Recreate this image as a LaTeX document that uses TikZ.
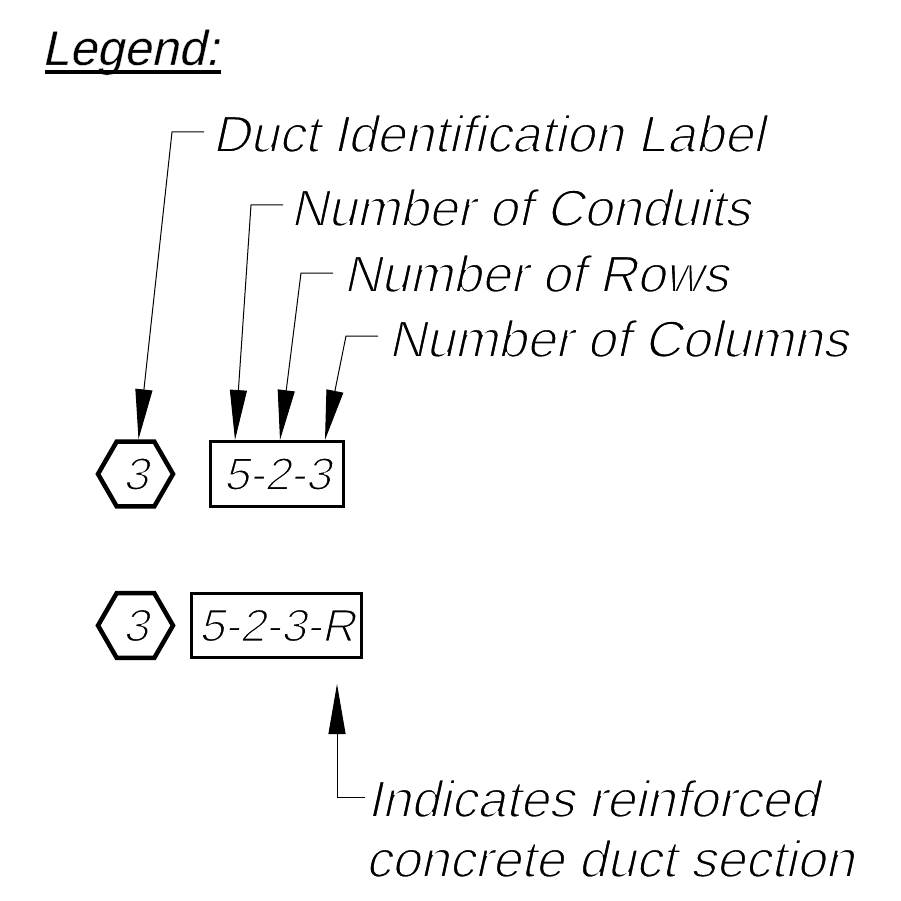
\documentclass[tikz,border=0pt]{standalone}
\usepackage{fontspec}
\setmainfont{Liberation Sans}[FakeSlant=0.22]
\usetikzlibrary{shapes.geometric,arrows.meta}
\newcommand{\thinstroke}[1]{\special{pdf:literal direct 2 Tr #1 w 1 1 1 RG}}
\begin{document}
\begin{tikzpicture}[x=1pt,y=-1pt,
  lbl/.style={inner sep=0pt, anchor=base west, font=\fontsize{51.7}{60}\selectfont\thinstroke{1.6}},
  leader/.style={line width=1pt, -{Triangle[length=50pt,width=17pt]}},
  hexa/.style={regular polygon, regular polygon sides=6, draw, line width=4.5pt,
               minimum size=75pt, inner sep=0pt, font=\fontsize{46}{50}\selectfont\thinstroke{1.6}},
  duct/.style={draw, line width=3pt, inner sep=0pt, font=\fontsize{46}{50}\selectfont\thinstroke{1.6}}]
\useasboundingbox (0,0) rectangle (900,901);

% Title
\node[inner sep=0pt, anchor=base west, font=\fontsize{49}{56}\selectfont\thinstroke{0.3}] (tLeg) at (41.5,65) {Legend:};
\draw[line width=4pt] ([shift={(3pt,-7pt)}]tLeg.base west) -- ([shift={(2pt,-7pt)}]tLeg.base east);

% Labels
\node[lbl] (tDuct) at (212,152) {Duct Identification Label};
\node[lbl] (tCon)  at (290,226) {Number of Conduits};
\node[lbl] (tRow)  at (343,292) {Number of Rows};
\node[lbl] (tCol)  at (388,357) {Number of Columns};
\node[lbl] (tInd)  at (367,817) {Indicates reinforced};
\node[lbl] (tInd2) at (365,877) {concrete duct section};

% Symbols
\node[hexa] (hex1) at (135.5,474) {3};
\node[duct, minimum width=133pt, minimum height=65pt] (box1) at (277,474) {5-2-3};
\node[hexa] (hex2) at (135.5,625.5) {3};
\node[duct, minimum width=170pt, minimum height=64pt] (box2) at (276.5,625.5) {5-2-3-R};

% Leaders
\draw[leader] ([shift={(-8pt,20pt)}]tDuct.base west) -- ++(-32,0) -- ([xshift=3pt]hex1.north);
\draw[leader] ([shift={(-7pt,21pt)}]tCon.base west) -- ++(-32,0) -- ([xshift=26pt]box1.north west);
\draw[leader] ([shift={(-10pt,19pt)}]tRow.base west) -- ++(-32,0) -- ([xshift=71pt]box1.north west);
\draw[leader] ([shift={(-10pt,21pt)}]tCol.base west) -- ++(-32,0) -- ([xshift=116pt]box1.north west);
\coordinate (rtip) at (337,684);
\draw[leader] ([shift={(-2pt,20pt)}]tInd.base west) -| (rtip);
\end{tikzpicture}
\end{document}
